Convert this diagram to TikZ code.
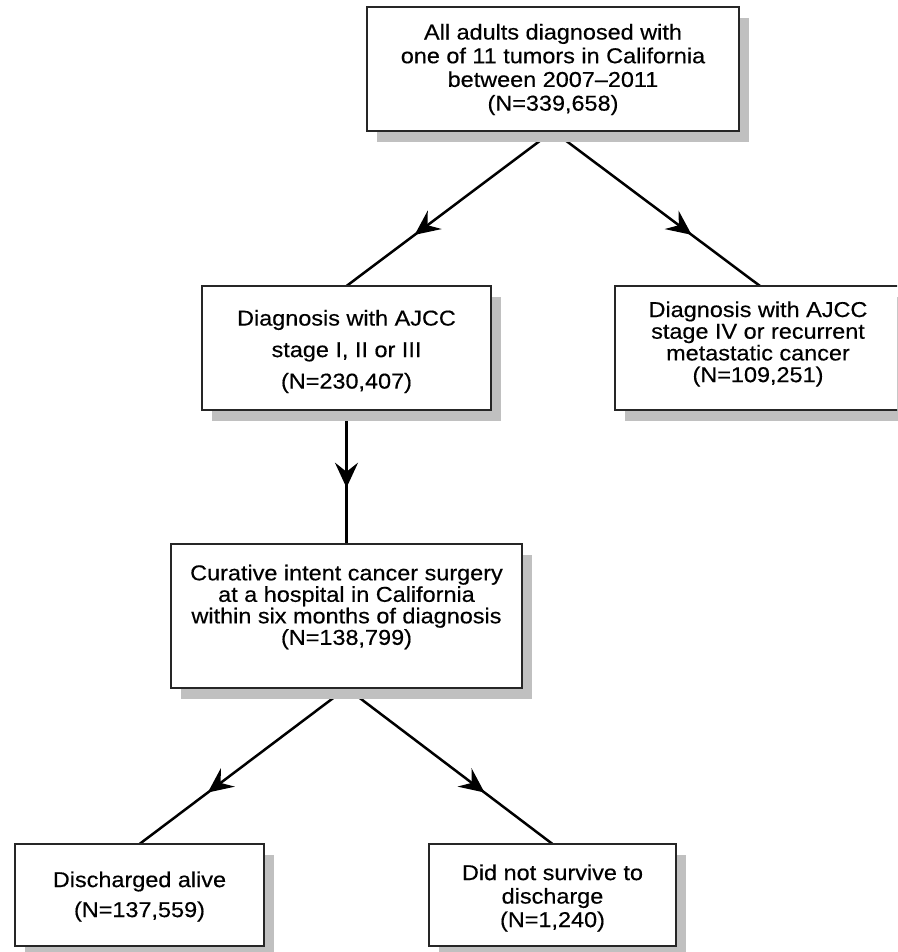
\documentclass[tikz,border=0pt]{standalone}
\usepackage{fontspec}
\setmainfont[FakeStretch=1.09,FakeBold=0.4]{Liberation Sans}
\usetikzlibrary{arrows.meta,decorations.markings,backgrounds}
\definecolor{shadowgray}{RGB}{192,192,192}
\tikzset{
  boxst/.style={draw=black!85, line width=1.4pt, fill=white, inner sep=0pt, outer sep=0pt, rectangle},
  txt/.style={align=center, inner sep=0pt, text=black},
  conn/.style={line width=2.5pt, draw=black, postaction={decorate},
    decoration={markings, mark=at position #1 with {\arrow{Stealth[length=25pt,width=23pt,inset=9pt]}}}},
  conn/.default=0.67
}
\newcommand{\shadowof}[1]{\fill[shadowgray] ([xshift=10pt,yshift=-11pt]#1.south west) rectangle ([xshift=10pt,yshift=-11pt]#1.north east);}
\begin{document}
\begin{tikzpicture}[x=1pt,y=-1pt]
\useasboundingbox (0,0) rectangle (897,952);
\clip (0,0) rectangle (897,952);
% boxes
\node[boxst, minimum width=372pt, minimum height=124pt] (top) at (553,69) {};
\node[boxst, minimum width=289pt, minimum height=124pt] (left) at (346.5,348) {};
\node[boxst, minimum width=290pt, minimum height=124pt] (right) at (760,348) {};
\node[boxst, minimum width=351pt, minimum height=144pt] (cur) at (346.5,616) {};
\node[boxst, minimum width=249pt, minimum height=102pt] (alive) at (139.5,895) {};
\node[boxst, minimum width=247pt, minimum height=102pt] (dead) at (552.5,895) {};
% texts
\node[txt, font=\fontsize{21.5}{23.7}\selectfont] (toptxt) at (553,69.5)
  {All adults diagnosed with\\one of 11 tumors in California\\between 2007--2011\\(N=339,658)};
\node[txt, font=\fontsize{21.5}{31.5}\selectfont] (lefttxt) at (346.5,351.5)
  {Diagnosis with AJCC\\stage I, II or III\\(N=230,407)};
\node[txt, font=\fontsize{21.5}{21.7}\selectfont] (righttxt) at (758,344)
  {Diagnosis with AJCC\\stage IV or recurrent\\metastatic cancer\\(N=109,251)};
\node[txt, font=\fontsize{21.5}{21.5}\selectfont] (curtxt) at (346.5,607)
  {Curative intent cancer surgery\\at a hospital in California\\within six months of diagnosis\\(N=138,799)};
\node[txt, font=\fontsize{21.5}{30}\selectfont] (alivetxt) at (139.5,896.5)
  {Discharged alive\\(N=137,559)};
\node[txt, font=\fontsize{21.5}{23.5}\selectfont] (deadtxt) at (552.5,898)
  {Did not survive to\\discharge\\(N=1,240)};
\begin{pgfonlayer}{background}
  \draw[conn] (top.south) -- (left.north);
  \draw[conn] (top.south) -- (right.north);
  \draw[conn=0.58] (left.south) -- (cur.north);
  \draw[conn] (cur.south) -- (alive.north);
  \draw[conn] (cur.south) -- (dead.north);
  \shadowof{top}
  \shadowof{left}
  \shadowof{right}
  \shadowof{cur}
  \shadowof{alive}
  \shadowof{dead}
\end{pgfonlayer}
\end{tikzpicture}
\end{document}
